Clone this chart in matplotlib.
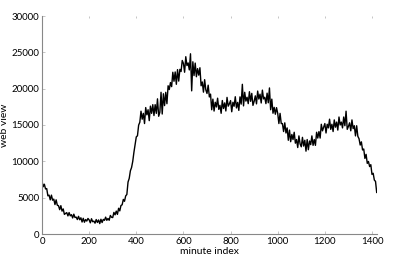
import numpy as np
import matplotlib
matplotlib.use("Agg")
import matplotlib.pyplot as plt

plt.rcParams['font.family'] = ['Lato', 'DejaVu Sans']

# minute index (every 5 minutes)
minute = np.arange(0, 1421, 5)

# web views
views_000 = [7300, 6500, 6850, 6200, 6250, 5250, 5350, 4700, 5350, 4650,
             4800, 4050, 4700, 3950, 3900, 3350, 3900, 3150, 3450, 2700]
views_100 = [2830, 2940, 2490, 2950, 2500, 2660, 2210, 2730, 2270, 2320,
             1990, 2430, 1960, 2230, 1650, 2160, 1620, 1990, 1780, 2140]
views_200 = [1940, 1540, 2100, 1690, 1770, 1490, 1990, 1590, 1930, 1430,
             2030, 1580, 2010, 1880, 2320, 1880, 2140, 1890, 2550, 2300]
views_300 = [2260, 2970, 2640, 3150, 2700, 3540, 3180, 3920, 4020, 4760,
             4500, 5240, 5440, 7150, 7650, 8700, 9150, 10000, 11250, 12300]
views_400 = [13360, 13520, 14980, 15380, 16900, 15800, 16600, 15200, 17400, 16400,
             17100, 15600, 17600, 16600, 17800, 16300, 17800, 16600, 18600, 16200]
views_500 = [16750, 19500, 16510, 19300, 17670, 19500, 17930, 20400, 19880, 20840,
             20280, 22260, 21020, 22300, 20600, 22620, 21040, 22660, 22360, 23880]
views_600 = [23480, 22260, 24400, 23180, 23540, 22580, 24800, 19700, 23700, 21800,
             23520, 21640, 22760, 21860, 22880, 20400, 20920, 19520, 21240, 19840]
views_700 = [19340, 20480, 18860, 19250, 17100, 18560, 16920, 18130, 17480, 18690,
             17150, 17710, 16610, 18370, 17270, 18040, 16930, 18800, 17590, 17920]
views_800 = [18360, 16820, 18130, 17580, 18890, 17350, 18110, 17010, 18870, 17870,
             20600, 17630, 19500, 18290, 18820, 17940, 19580, 18260, 19350, 17700]
views_900 = [18250, 19010, 17910, 19670, 18570, 19240, 18030, 19800, 18590, 18820,
             17940, 19380, 18060, 20100, 17100, 18560, 16620, 17430, 16480, 17390]
views_1000 = [16600, 15200, 16600, 15200, 15200, 14100, 15300, 13900, 14600, 12900,
              14300, 12700, 13700, 13000, 14000, 12500, 13000, 11900, 13500, 12400]
views_1100 = [12000, 13300, 12100, 12900, 11400, 13000, 11600, 12800, 12300, 13500,
              12200, 13000, 12200, 14000, 13200, 14100, 13200, 15100, 14200, 14700]
views_1200 = [15200, 13900, 15100, 14600, 15800, 14400, 15100, 14100, 15700, 14700,
              15400, 14300, 16100, 15000, 15400, 14600, 16100, 14900, 16900, 14400]
views_1300 = [14800, 15300, 14200, 15700, 14500, 14900, 13500, 14900,
              13440, 13120, 12240, 12680, 11560, 11700, 10400, 10960, 9720, 9980,
              9280, 9540, 8200, 8360, 7420, 7240, 5720]

views = np.array(views_000 + views_100 + views_200 + views_300 + views_400 +
                 views_500 + views_600 + views_700 + views_800 + views_900 +
                 views_1000 + views_1100 + views_1200 + views_1300)

xticks = [0, 200, 400, 600, 800, 1000, 1200, 1400]
yticks = [0, 5000, 10000, 15000, 20000, 25000, 30000]

fig = plt.figure(figsize=(3.94, 2.61), dpi=100)
ax = fig.add_axes([42/394, 27/261, (376.7-42)/394, (234-16)/261])
ax.plot(minute, views, color='black', linewidth=1.0)

ax.set_xlim(0, 1420)
ax.set_ylim(0, 30000)
ax.set_xticks(xticks)
ax.set_yticks(yticks)
ax.tick_params(direction='in', length=2.5, width=0.6, color='#bbbbbb',
               labelsize=7, pad=2)
ax.tick_params(axis='x', top=True)
for s in ['top', 'right']:
    ax.spines[s].set_visible(False)
for s in ['left', 'bottom']:
    ax.spines[s].set_color('#888888')
    ax.spines[s].set_linewidth(0.8)
for t in ax.xaxis.get_minor_ticks() + ax.xaxis.get_major_ticks():
    t.tick2line.set_color('#e4e4e4')
    t.tick2line.set_markersize(1.5)

ax.set_xlabel('minute index', fontsize=7.5, labelpad=1)
ax.set_ylabel('web view', fontsize=7.5, labelpad=2)

fig.savefig('out.png', dpi=100, facecolor='white')
